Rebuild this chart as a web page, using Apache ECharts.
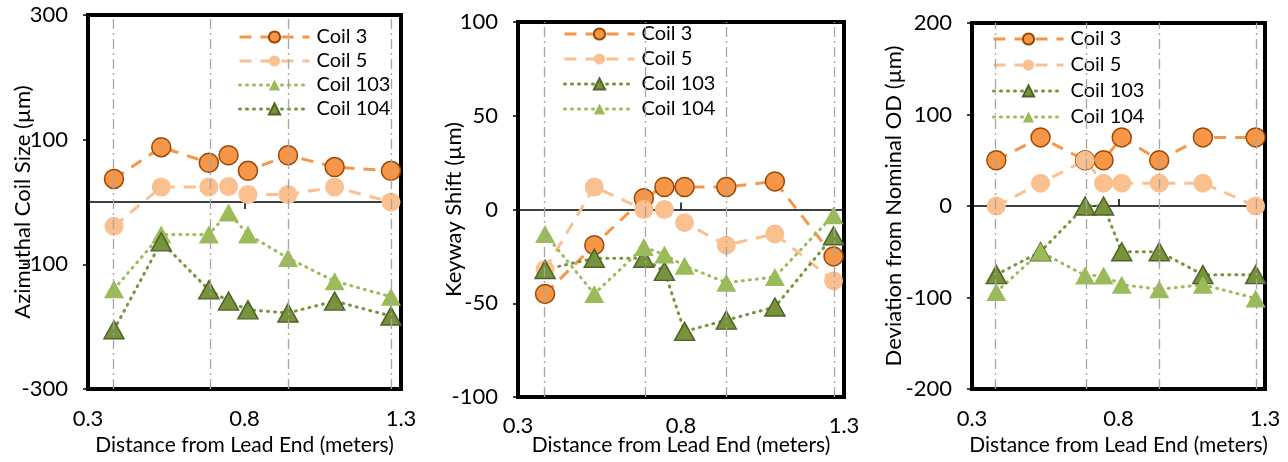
<!DOCTYPE html>
<html>
<head>
    <meta charset="utf-8">
    <script src="https://cdn.jsdelivr.net/npm/echarts@6/dist/echarts.min.js"></script>
</head>
<body style="margin:0;background-color:#fff;">
    <div id="container" style="width:1288px;height:462px;"></div>
    <script type="text/javascript">
        // positions along the coil (m)
        var distance = [0.383, 0.534, 0.686, 0.749, 0.811, 0.939, 1.088, 1.268];
        var gridLinesX = [0.383, 0.686, 0.939, 1.268];
        var xTicks = [0.3, 0.8, 1.3];

        // azimuthal coil size (um)
        var azCoil3 = [37, 88, 63, 75, 50, 75, 56, 50];
        var azCoil5 = [-39, 24, 24, 25, 12, 12, 24, 0];
        var azCoil103 = [-140, -52, -52, -17, -52, -90, -127, -152];
        var azCoil104 = [-205, -64, -141, -159, -173, -178, -159, -183];
        var azTicks = [-300, -100, 100, 300];

        // keyway shift (um)
        var ksCoil3 = [-45, -19, 6, 12, 12, 12, 15, -25];
        var ksCoil5 = [-32, 12, 0, 0, -7, -19, -13, -38];
        var ksCoil103 = [-32, -26, -26, -33, -65, -59, -52, -14];
        var ksCoil104 = [-13, -45, -20, -24, -30, -39, -36, -3];
        var ksTicks = [-100, -50, 0, 50, 100];

        // deviation from nominal OD (um)
        var odCoil3 = [50, 75, 50, 50, 75, 50, 75, 75];
        var odCoil5 = [0, 25, 50, 25, 25, 25, 25, 0];
        var odCoil103 = [-75, -50, 0, 0, -50, -50, -75, -75];
        var odCoil104 = [-94, -50, -76, -76, -86, -91, -86, -101];
        var odTicks = [-200, -100, 0, 100, 200];

        var font = 'Lato';
        var dashStyle = [12, 9];
        var dotStyle = [1, 6];

        var styles = {
            c3: { line: '#F79646', fill: '#F79646', border: '#984807', bw: 1.5, symbol: 'circle', size: 19, dash: dashStyle },
            c5: { line: '#FAC090', fill: '#FAC090', border: '#FAC090', bw: 0, symbol: 'circle', size: 19, dash: dashStyle },
            light: { line: '#9BBB59', fill: '#9BBB59', border: '#9BBB59', bw: 0, symbol: 'triangle', size: [20, 18], dash: dotStyle },
            dark: { line: '#77933C', fill: '#77933C', border: '#4F6228', bw: 1.5, symbol: 'triangle', size: [20, 18], dash: dotStyle }
        };

        function pairs(values) {
            return distance.map(function (d, i) { return [d, values[i]]; });
        }

        function makeSeries(name, values, st, idx) {
            return {
                name: name + '_' + idx,
                type: 'line',
                xAxisIndex: idx * 2,
                yAxisIndex: idx,
                data: pairs(values),
                symbol: st.symbol,
                symbolSize: st.size,
                showAllSymbol: true,
                lineStyle: { color: st.line, width: 3, type: st.dash, cap: st.dash === dotStyle ? 'round' : 'butt' },
                itemStyle: { color: st.fill, borderColor: st.border, borderWidth: st.bw, opacity: 1 },
                animation: false
            };
        }

        function gridLineSeries(idx) {
            return {
                name: 'grid_' + idx,
                type: 'line',
                xAxisIndex: idx * 2,
                yAxisIndex: idx,
                data: [],
                z: 1,
                markLine: {
                    silent: true,
                    symbol: 'none',
                    label: { show: false },
                    animation: false,
                    lineStyle: { color: '#A6A6A6', width: 1.3, type: [10, 4, 2, 4] },
                    data: gridLinesX.map(function (v) { return { xAxis: v }; })
                }
            };
        }

        var grids = [
            { left: 88, top: 15, width: 313, height: 374 },
            { left: 518, top: 22, width: 326, height: 375 },
            { left: 972, top: 23, width: 293, height: 366 }
        ];
        var yNames = ['Azimuthal Coil Size (µm)', 'Keyway Shift (µm)', 'Deviation from Nominal OD (µm)'];
        var yTickSets = [azTicks, ksTicks, odTicks];
        var yNameGaps = [54, 53, 67];
        var xNameGaps = [46, 38, 46];
        var xLabelMargins = [19, 18, 19];
        var tickDown = [true, false, false];

        var xAxes = [], yAxes = [];
        grids.forEach(function (g, i) {
            g.show = true;
            g.borderWidth = 4;
            g.borderColor = '#000';
            g.backgroundColor = 'transparent';
            g.containLabel = false;
            g.outerBoundsMode = 'none';
            var yt = yTickSets[i];
            xAxes.push({
                gridIndex: i, type: 'value', position: 'bottom',
                min: xTicks[0], max: xTicks[xTicks.length - 1], interval: xTicks[1] - xTicks[0],
                name: 'Distance from Lead End (meters)', nameLocation: 'middle', nameGap: xNameGaps[i],
                nameMoveOverlap: false,
                nameTextStyle: { fontFamily: font, fontSize: 21, color: '#000' },
                axisLine: { show: false, onZero: false },
                axisTick: { show: false },
                splitLine: { show: false },
                axisLabel: { fontFamily: font, fontSize: 22, color: '#000', margin: xLabelMargins[i],
                    formatter: function (v) { return v.toFixed(1); } }
            });
            xAxes.push({
                gridIndex: i, type: 'value', position: 'top',
                min: xTicks[0], max: xTicks[xTicks.length - 1], interval: xTicks[1] - xTicks[0],
                axisLine: { show: true, onZero: true, lineStyle: { color: '#000', width: 1.5 } },
                axisTick: { show: true, inside: tickDown[i], length: 7, lineStyle: { color: '#000', width: 1.5 } },
                axisLabel: { show: false },
                splitLine: { show: false }
            });
            yAxes.push({
                gridIndex: i, type: 'value',
                min: yt[0], max: yt[yt.length - 1], interval: yt[1] - yt[0],
                name: yNames[i], nameLocation: 'middle', nameGap: yNameGaps[i],
                nameMoveOverlap: false,
                nameTextStyle: { fontFamily: font, fontSize: 22, color: '#000' },
                axisLine: { show: false },
                axisTick: { show: true, length: 5, lineStyle: { color: '#000', width: 1.5 } },
                splitLine: { show: false },
                axisLabel: { fontFamily: font, fontSize: 22, color: '#000', margin: 20 }
            });
        });

        var series = [
            gridLineSeries(0), gridLineSeries(1), gridLineSeries(2),
            makeSeries('Coil 3', azCoil3, styles.c3, 0),
            makeSeries('Coil 5', azCoil5, styles.c5, 0),
            makeSeries('Coil 103', azCoil103, styles.light, 0),
            makeSeries('Coil 104', azCoil104, styles.dark, 0),
            makeSeries('Coil 3', ksCoil3, styles.c3, 1),
            makeSeries('Coil 5', ksCoil5, styles.c5, 1),
            makeSeries('Coil 103', ksCoil103, styles.dark, 1),
            makeSeries('Coil 104', ksCoil104, styles.light, 1),
            makeSeries('Coil 3', odCoil3, styles.c3, 2),
            makeSeries('Coil 5', odCoil5, styles.c5, 2),
            makeSeries('Coil 103', odCoil103, styles.dark, 2),
            makeSeries('Coil 104', odCoil104, styles.light, 2)
        ];

        var legendPos = [
            { left: 238, top: 27, gap: 4 },
            { left: 563, top: 24, gap: 5 },
            { left: 992, top: 29, gap: 6 }
        ];
        var legends = legendPos.map(function (p, i) {
            return {
                orient: 'vertical', left: p.left, top: p.top, itemGap: p.gap,
                itemWidth: 70, itemHeight: 14, padding: 0,
                data: ['Coil 3', 'Coil 5', 'Coil 103', 'Coil 104'].map(function (n) { return n + '_' + i; }),
                formatter: function (name) { return name.split('_')[0]; },
                lineStyle: { width: 3 },
                textStyle: { fontFamily: font, fontSize: 20, color: '#000', padding: [0, 0, 0, 2] },
                selectedMode: false
            };
        });

        var dom = document.getElementById('container');
        var myChart = echarts.init(dom);
        var option = {
            animation: false,
            backgroundColor: '#fff',
            grid: grids,
            xAxis: xAxes,
            yAxis: yAxes,
            legend: legends,
            series: series
        };
        myChart.setOption(option);
    </script>
</body>
</html>
